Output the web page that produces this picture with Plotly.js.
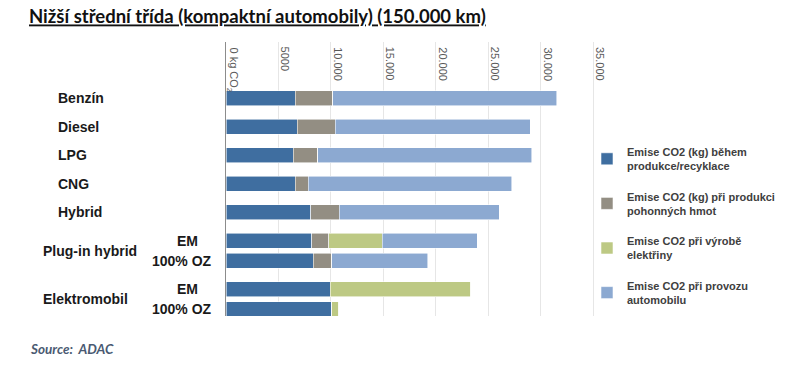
<!DOCTYPE html>
<html>
<head>
<meta charset="utf-8">
<script src="https://cdn.plot.ly/plotly-3.0.1.min.js"></script>
<style>html,body{margin:0;padding:0;background:#fff;}#chart{width:800px;height:386px;}</style>
</head>
<body>
<div id="chart"></div>
<script>
// ---- data ----
var mainLabels = ['Benzín', 'Diesel', 'LPG', 'CNG', 'Hybrid', 'Plug-in hybrid', 'Plug-in hybrid', 'Elektromobil', 'Elektromobil'];
var subLabels = ['', '', '', '', '', 'EM', '100% OZ', 'EM', '100% OZ'];
var prodRecycling = [6580, 6800, 6390, 6580, 8100, 8170, 8330, 9920, 10080];
var fuelProduction = [3600, 3600, 2350, 1270, 2680, 1650, 1750, 0, 0];
var electricityProduction = [0, 0, 0, 0, 0, 5080, 0, 13420, 670];
var operation = [21360, 18600, 20410, 19400, 15290, 9060, 9160, 0, 0];
var seriesNames = [
  'Emise CO2 (kg) během<br>produkce/recyklace',
  'Emise CO2 (kg) při produkci<br>pohonných hmot',
  'Emise CO2 při výrobě<br>elektřiny',
  'Emise CO2 při provozu<br>automobilu'
];
var tickValues = [0, 5000, 10000, 15000, 20000, 25000, 30000, 35000];
var tickLabels = ['0 kg CO<sub>2</sub>', '5000', '10.000', '15.000', '20.000', '25.000', '30.000', '35.000'];
var titleText = 'Nižší střední třída (kompaktní automobily) (150.000 km)';
var sourceText = 'Source:  ADAC';

// ---- layout constants (style) ----
var W = 800, H = 386;
var L = 226, R = 200, T = 42, B = 70;
var PW = W - L - R, PH = H - T - B;
var colors = ['#3F6EA0', '#938E83', '#BDC984', '#8CA9D1'];
var pairStep = 0.7, groupStep = 1.0, barWidth = 0.53;

// row positions: tighter spacing within a two-row group
var pos = [];
for (var i = 0; i < mainLabels.length; i++) {
  if (i === 0) pos.push(0);
  else pos.push(pos[i - 1] + (mainLabels[i] === mainLabels[i - 1] ? pairStep : groupStep));
}
function px2x(px) { return (px - L) / PW; }
function py2y(py) { return (T + PH - py) / PH; }

var series = [prodRecycling, fuelProduction, electricityProduction, operation];
var traces = series.map(function (vals, k) {
  return {
    type: 'bar', orientation: 'h',
    x: vals, y: pos,
    width: pos.map(function () { return barWidth; }),
    name: seriesNames[k],
    legendgroup: 'g' + k,
    marker: { color: colors[k], line: { color: 'rgba(255,255,255,0.7)', width: 0.8 } },
    hoverinfo: 'x+name'
  };
});

var annotations = [];
// top tick labels (rotated, top-aligned)
tickValues.forEach(function (v, i) {
  annotations.push({
    x: v, xref: 'x', y: py2y(45), yref: 'paper', yanchor: 'top', xanchor: 'center',
    xshift: 7, text: tickLabels[i], textangle: 90, showarrow: false,
    font: { family: 'Liberation Sans, Arial, sans-serif', size: 11, color: '#595959' }
  });
});
// main category labels
var seen = {};
mainLabels.forEach(function (m, i) {
  if (seen[m] !== undefined) return;
  var idx = [];
  mainLabels.forEach(function (mm, j) { if (mm === m) idx.push(j); });
  var yc = idx.reduce(function (s, j) { return s + pos[j]; }, 0) / idx.length;
  seen[m] = yc;
  annotations.push({
    x: px2x(idx.length > 1 ? 41 : 56), xref: 'paper', y: yc, yref: 'y',
    xanchor: 'left', yanchor: 'middle', text: '<b>' + m + '</b>', showarrow: false,
    font: { family: 'Liberation Sans, Arial, sans-serif', size: 14, color: '#1a1a1a' }
  });
});
// sub labels
subLabels.forEach(function (s, i) {
  if (!s) return;
  annotations.push({
    x: px2x(s === 'EM' ? 187 : 182), xref: 'paper', y: pos[i], yref: 'y',
    xanchor: 'center', yanchor: 'middle', text: '<b>' + s + '</b>', showarrow: false,
    font: { family: 'Liberation Sans, Arial, sans-serif', size: 14, color: '#1a1a1a' }
  });
});
// source
annotations.push({
  x: px2x(28), xref: 'paper', y: py2y(349), yref: 'paper', xanchor: 'left', yanchor: 'middle',
  text: '<i>' + sourceText + '</i>', showarrow: false,
  font: { family: 'Lato, Open Sans, sans-serif', size: 13.5, weight: 'bold', color: '#4A5A72' }
});

var firstPos = pos[0];
var layout = {
  width: W, height: H,
  margin: { l: L, r: R, t: T, b: B, pad: 0 },
  paper_bgcolor: '#ffffff', plot_bgcolor: '#ffffff',
  barmode: 'stack',
  title: {
    text: titleText,
    xref: 'container', x: 29 / W, xanchor: 'left',
    yref: 'container', y: 1 - 17 / H, yanchor: 'middle',
    font: { family: 'Lato, Open Sans, sans-serif', size: 18.5, weight: 'bold', color: '#111111', lineposition: 'under' }
  },
  xaxis: {
    range: [0, 35000 * (PW) / (593 - L)],
    tickvals: tickValues, showticklabels: false,
    showgrid: true, gridcolor: '#E6E6E6', gridwidth: 1,
    zeroline: false, showline: false, fixedrange: true
  },
  yaxis: {
    range: [firstPos + (316 - 98.3) / 28.5, firstPos - (98.3 - 42) / 28.5],
    showticklabels: false, showgrid: false, zeroline: false,
    showline: true, linecolor: '#8C8C8C', linewidth: 1.5, fixedrange: true
  },
  showlegend: true,
  legend: {
    x: px2x(587), xref: 'paper', xanchor: 'left',
    y: py2y(138), yref: 'paper', yanchor: 'top',
    traceorder: 'grouped', tracegroupgap: 13,
    bgcolor: 'rgba(0,0,0,0)', borderwidth: 0,
    font: { family: 'Liberation Sans, Arial, sans-serif', size: 11, weight: 'bold', color: '#404040' }
  },
  annotations: annotations
};

Plotly.newPlot('chart', traces, layout, { displayModeBar: false, staticPlot: true });
</script>
</body>
</html>
